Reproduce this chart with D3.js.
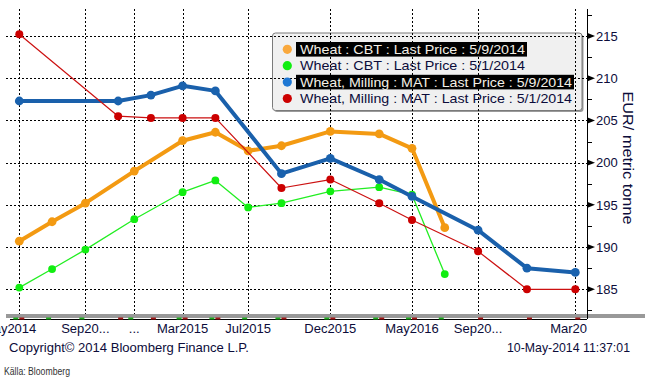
<!DOCTYPE html>
<html>
<head>
<meta charset="utf-8">
<script src="https://cdn.jsdelivr.net/npm/d3@7"></script>
<style>
  html, body { margin: 0; padding: 0; background: #ffffff; }
  svg { display: block; }
  text { font-family: "Liberation Sans", Arial, sans-serif; }
</style>
</head>
<body>
<svg id="chart" width="645" height="383"></svg>
<script>
// ---------------- DATA ----------------
const cbtDates = ["2014-05","2014-07","2014-09","2014-12","2015-03","2015-05","2015-07","2015-09","2015-12","2016-03","2016-05","2016-07"];
const cbtLatest = [190.7, 193.0, 195.2, 199.0, 202.6, 203.6, 201.4, 202.0, 203.7, 203.4, 201.7, 192.3];
const cbtPrior  = [185.2, 187.4, 189.7, 193.3, 196.5, 197.9, 194.7, 195.2, 196.6, 197.1, 196.2, 186.8];

const matDates = ["2014-05","2014-11","2015-01","2015-03","2015-05","2015-09","2015-12","2016-03","2016-05","2016-09","2016-12","2017-03"];
const matLatest = [207.3, 207.3, 208.0, 209.1, 208.5, 198.7, 200.5, 198.0, 196.0, 192.0, 187.5, 187.0];
const matPrior  = [215.2, 205.5, 205.3, 205.3, 205.3, 197.0, 198.0, 195.2, 193.2, 189.5, 185.0, 185.0];

const seriesNames = [
  "Wheat : CBT : Last Price : 5/9/2014",
  "Wheat : CBT : Last Price : 5/1/2014",
  "Wheat, Milling : MAT : Last Price : 5/9/2014",
  "Wheat, Milling : MAT : Last Price : 5/1/2014"
];

const xTickDates  = ["2014-05","2014-09","2014-12","2015-03","2015-07","2015-12","2016-05","2016-09","2017-03"];
const xTickLabels = ["May2014","Sep20...","...","Mar2015","Jul2015","Dec2015","May2016","Sep20...","Mar20"];

const yTicks = [185, 190, 195, 200, 205, 210, 215];
const yMinorTicks = [182.5, 187.5, 192.5, 197.5, 202.5, 207.5, 212.5, 217.5];

const yTitle = "EUR/ metric tonne";
const copyright = "Copyright\u00A9 2014 Bloomberg Finance L.P.";
const stamp = "10-May-2014 11:37:01";
const source = "K\u00E4lla: Bloomberg";

// ---------------- SETUP ----------------
const parse = d3.timeParse("%Y-%m");
const svg = d3.select("#chart");

const plotTop = 9, plotBottom = 319, plotLeft = 6, plotRight = 587;

const x = d3.scaleTime()
  .domain([parse("2014-05"), parse("2017-03")])
  .range([19.3, 575.3]);
const y = d3.scaleLinear()
  .domain([185, 215])
  .range([289.3, 36]);

const navy = "#0c0c3a";

const series = [
  { name: seriesNames[0], dates: cbtDates, vals: cbtLatest, color: "#f39a12", marker: "#f39a12", legendMarker: "#f9a83c", width: 4, r: 4.4, hl: true },
  { name: seriesNames[1], dates: cbtDates, vals: cbtPrior,  color: "#22ee22", marker: "#11ee11", legendMarker: "#11ee11", width: 1.3, r: 3.9, hl: false },
  { name: seriesNames[2], dates: matDates, vals: matLatest, color: "#1a60ab", marker: "#1a62ae", legendMarker: "#1f78d4", width: 4, r: 4.4, hl: true },
  { name: seriesNames[3], dates: matDates, vals: matPrior,  color: "#cc1111", marker: "#cc0000", legendMarker: "#cc0000", width: 1.2, r: 4.0, hl: false }
];

// ---------------- LEGEND BACKGROUND ----------------
const lg = { x: 272.5, y: 33, w: 309.5, h: 77.5 };
svg.append("rect")
  .attr("x", lg.x + 1.5).attr("y", lg.y + 1.5)
  .attr("width", lg.w).attr("height", lg.h)
  .attr("rx", 3).attr("fill", "#9a9a9a");
svg.append("rect")
  .attr("x", lg.x).attr("y", lg.y)
  .attr("width", lg.w).attr("height", lg.h)
  .attr("rx", 3).attr("fill", "#f0f0f0")
  .attr("stroke", "#7a7a7a").attr("stroke-width", 1);

// ---------------- GRID ----------------
const grid = svg.append("g");
grid.selectAll("line.h").data(yTicks).join("line")
  .attr("x1", plotLeft).attr("x2", plotRight)
  .attr("y1", d => Math.round(y(d)) + 0.5).attr("y2", d => Math.round(y(d)) + 0.5)
  .attr("stroke", "#000").attr("stroke-width", 1).attr("stroke-dasharray", "2,2");
grid.selectAll("line.v").data(xTickDates).join("line")
  .attr("x1", d => Math.round(x(parse(d))) + 0.5).attr("x2", d => Math.round(x(parse(d))) + 0.5)
  .attr("y1", plotTop).attr("y2", 314)
  .attr("stroke", "#000").attr("stroke-width", 1).attr("stroke-dasharray", "2,2");

// ---------------- LEGEND CONTENT ----------------
const rowY = i => 49.3 + i * 16.4;
series.forEach((s, i) => {
  const cy = rowY(i);
  const fitW = i < 2 ? 225 : 272;
  const t = svg.append("text")
    .attr("x", 300).attr("y", cy + 4.6)
    .attr("font-size", 13.5)
    .attr("textLength", fitW).attr("lengthAdjust", "spacingAndGlyphs")
    .text(s.name);
  if (s.hl) {
    svg.insert("rect", function() { return t.node(); })
      .attr("x", 296).attr("y", cy - 7.3)
      .attr("width", fitW + 6).attr("height", 14.6)
      .attr("fill", "#000");
    t.attr("fill", "#f3efe6");
  } else {
    t.attr("fill", navy);
  }
  svg.append("circle")
    .attr("cx", 287.3).attr("cy", cy).attr("r", 4.6)
    .attr("fill", s.legendMarker);
});

// ---------------- SERIES ----------------
const lineGen = d3.line().x(d => x(d.date)).y(d => y(d.v));
series.forEach(s => {
  const pts = s.dates.map((d, i) => ({ date: parse(d), v: s.vals[i] }));
  svg.append("path")
    .datum(pts)
    .attr("d", lineGen)
    .attr("fill", "none")
    .attr("stroke", s.color)
    .attr("stroke-width", s.width)
    .attr("stroke-linejoin", "round");
  svg.append("g").selectAll("circle").data(pts).join("circle")
    .attr("cx", d => x(d.date)).attr("cy", d => y(d.v))
    .attr("r", s.r).attr("fill", s.marker);
});

// ---------------- BOTTOM BAR / X AXIS ----------------
svg.append("rect")
  .attr("x", plotLeft).attr("y", 314)
  .attr("width", 645 - plotLeft).attr("height", 4)
  .attr("fill", "#999999");
svg.append("line")
  .attr("x1", 10).attr("x2", plotRight)
  .attr("y1", 319.5).attr("y2", 319.5)
  .attr("stroke", "#000").attr("stroke-width", 1);

// data-date markers on the axis
svg.append("g").selectAll("rect").data(cbtDates).join("rect")
  .attr("x", d => x(parse(d)) - 6).attr("y", 317.5)
  .attr("width", 5).attr("height", 2).attr("fill", "#22aa22");
svg.append("g").selectAll("rect").data(matDates).join("rect")
  .attr("x", d => x(parse(d))).attr("y", 317.5)
  .attr("width", 5).attr("height", 2).attr("fill", "#a01818");

// x tick labels (first one is clipped at the left edge, as in the source)
const nX = xTickDates.length;
svg.append("g").selectAll("text").data(xTickDates).join("text")
  .attr("x", (d, i) => i === nX - 1 ? plotRight : (i === 0 ? x(parse(d)) + 17 : x(parse(d))))
  .attr("y", 332.5)
  .attr("text-anchor", (d, i) => (i === nX - 1 || i === 0) ? "end" : "middle")
  .attr("font-size", 13)
  .attr("fill", navy)
  .text((d, i) => xTickLabels[i]);

// ---------------- Y AXIS ----------------
svg.append("line")
  .attr("x1", plotRight + 0.5).attr("x2", plotRight + 0.5)
  .attr("y1", plotTop).attr("y2", 319)
  .attr("stroke", "#000").attr("stroke-width", 1);
svg.append("g").selectAll("line").data(yMinorTicks).join("line")
  .attr("x1", plotRight).attr("x2", plotRight + 5)
  .attr("y1", d => Math.round(y(d)) + 0.5).attr("y2", d => Math.round(y(d)) + 0.5)
  .attr("stroke", "#000");
svg.append("g").selectAll("path").data(yTicks).join("path")
  .attr("d", d => { const yy = y(d); return `M${plotRight},${yy - 3.2}L${plotRight + 8},${yy}L${plotRight},${yy + 3.2}Z`; })
  .attr("fill", "#000");
svg.append("g").selectAll("text").data(yTicks).join("text")
  .attr("x", 596).attr("y", d => y(d) + 4.7)
  .attr("font-size", 13)
  .attr("fill", navy)
  .text(d => d);

svg.append("text")
  .attr("transform", "translate(623,158) rotate(90)")
  .attr("text-anchor", "middle")
  .attr("font-size", 14.5)
  .attr("fill", navy)
  .attr("textLength", 133).attr("lengthAdjust", "spacingAndGlyphs")
  .text(yTitle);

// ---------------- FOOTER ----------------
svg.append("text")
  .attr("x", 9).attr("y", 351.5)
  .attr("font-size", 13).attr("fill", navy)
  .attr("textLength", 240).attr("lengthAdjust", "spacingAndGlyphs")
  .text(copyright);
svg.append("text")
  .attr("x", 507).attr("y", 351.5)
  .attr("font-size", 13).attr("fill", navy)
  .attr("textLength", 123).attr("lengthAdjust", "spacingAndGlyphs")
  .text(stamp);
svg.append("text")
  .attr("x", 4).attr("y", 375)
  .attr("font-size", 10).attr("fill", "#333")
  .attr("textLength", 66).attr("lengthAdjust", "spacingAndGlyphs")
  .text(source);
</script>
</body>
</html>
